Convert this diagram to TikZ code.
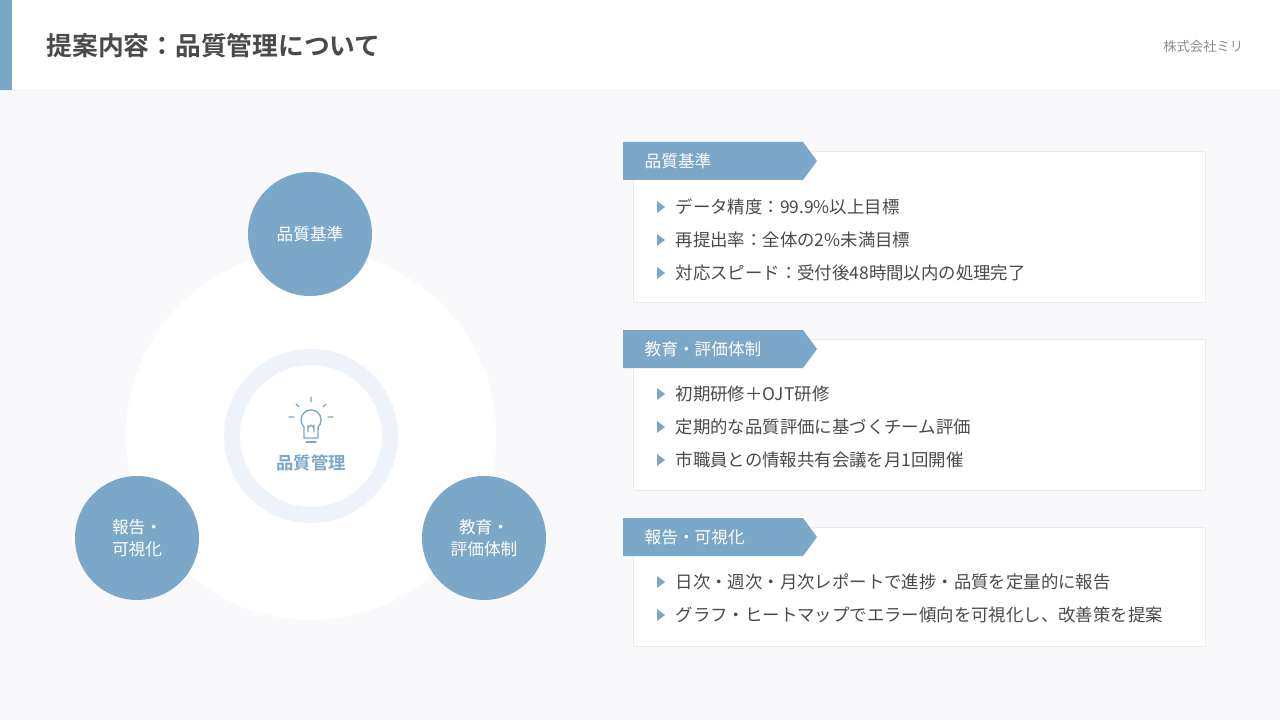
\documentclass[tikz,border=0pt]{standalone}
\usepackage{fontspec}
\setmainfont{Noto Sans CJK JP}
\newfontfamily\jpb{Noto Sans CJK JP Bold}
\definecolor{acc}{HTML}{7BA7C9}
\definecolor{bgc}{HTML}{F9F8FB}
\definecolor{txt}{HTML}{4A4A4A}
\definecolor{ring}{HTML}{EEF3F9}
\tikzset{
 circ/.style={circle,fill=acc,minimum size=124pt*0.75,text=white,font=\fontsize{12.5}{16}\selectfont,align=center,inner sep=0},
 card/.style={fill=white,draw=black!8,line width=0.6pt},
 tab/.style={fill=acc},
 tabtxt/.style={text=white,anchor=west,font=\fontsize{12.5}{14}\selectfont},
 item/.style={text=txt,anchor=west,font=\fontsize{13.05}{14}\selectfont},
 tri/.style={fill=acc}
}
\begin{document}
\begin{tikzpicture}[x=0.75pt,y=-0.75pt]
\useasboundingbox (0,0) rectangle (1280,720);
\fill[bgc] (0,0) rectangle (1280,720);
\fill[white] (0,0) rectangle (1280,90);
\draw[black!6] (0,90.5) -- (1280,90.5);
\fill[acc] (0,0) rectangle (12,90);
\node[anchor=west,text=txt,font=\jpb\fontsize{19.3}{22}\selectfont] (title) at (42,46) {提案内容：品質管理について};
\node[anchor=east,text=black!45,font=\fontsize{10}{12}\selectfont] (co) at (1248,46) {株式会社ミリ};
% diagram
\fill[white] (311,435) circle (185);
\draw[ring,line width=12pt] (311,436) circle (79);
\node[text=acc,font=\jpb\fontsize{13}{15}\selectfont] (center) at (311,463) {品質管理};
% bulb icon
\begin{scope}[draw=acc,line width=1pt,line cap=round,line join=round]
\draw (304,433) -- (304,427) arc[start angle=135,end angle=405,radius=10] -- (318,433) -- (318,438) -- (304,438) -- cycle;
\draw (306,442) -- (316,442);
\draw (308,432) -- (308,425) (314,432) -- (314,425) (308,428)--(311,425)--(314,428);
\draw (311,397)--(311,402) (296,404)--(299,407) (326,404)--(323,407) (289,417)--(294,417) (328,417)--(333,417);
\end{scope}
\node[circ] (c1) at (310,234) {品質基準};
\node[circ] (c2) at (137,538) {報告・\\可視化};
\node[circ] (c3) at (484,538) {教育・\\評価体制};
% cards
\newcommand{\mycard}[4]{%
 \draw[card] (633,#1+9) rectangle (1205,#2);
 \fill[tab] (623,#1) -- (803,#1) -- (817,#1+19) -- (803,#1+38) -- (623,#1+38) -- cycle;
 \node[tabtxt] (#4) at (640,#1+19) {#3};
}
\newcommand{\myitem}[3]{%
 \fill[tri] (657,#1-6) -- (665,#1) -- (657,#1+6) -- cycle;
 \node[item] (#3) at (671,#1) {#2};
}
\mycard{142}{302}{品質基準}{t1}
\myitem{207}{データ精度：99.9\%以上目標}{i11}
\myitem{240}{再提出率：全体の2\%未満目標}{i12}
\myitem{273}{対応スピード：受付後48時間以内の処理完了}{i13}
\mycard{330}{490}{教育・評価体制}{t2}
\myitem{394}{初期研修＋OJT研修}{i21}
\myitem{427}{定期的な品質評価に基づくチーム評価}{i22}
\myitem{460}{市職員との情報共有会議を月1回開催}{i23}
\mycard{518}{646}{報告・可視化}{t3}
\myitem{582}{日次・週次・月次レポートで進捗・品質を定量的に報告}{i31}
\myitem{615}{グラフ・ヒートマップでエラー傾向を可視化し、改善策を提案}{i32}
\end{tikzpicture}
\end{document}
